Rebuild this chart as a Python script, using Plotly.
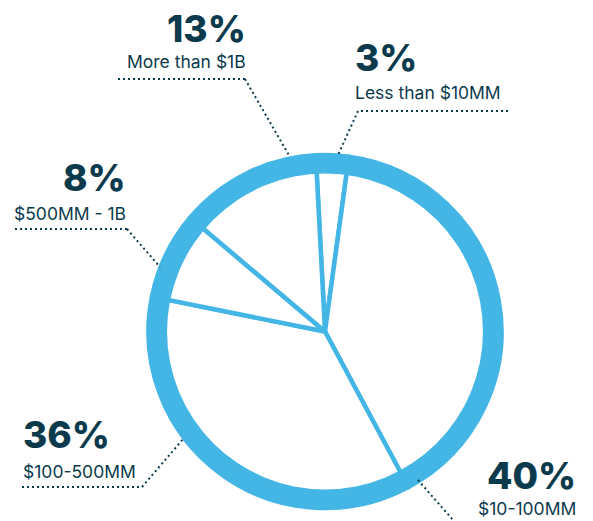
import plotly.graph_objects as go

# Share of companies by revenue band
bands = ["Less than $10MM", "$10-100MM", "$100-500MM", "$500MM - 1B", "More than $1B"]
shares = [3, 40, 36, 8, 13]

W, H = 593, 521
BLUE = "#44B6E6"
INK = "#0C3A4D"
FONT = "Inter"

# pie geometry in pixels
cx, cy, r_out = 325, 331.5, 176.5
ring_hole = 0.895

dom_x = [(cx - r_out) / W, (cx + r_out) / W]
dom_y = [(H - cy - r_out) / H, (H - cy + r_out) / H]

fig = go.Figure()

fig.add_trace(go.Pie(
    labels=bands, values=shares, sort=False, direction="clockwise", rotation=-3,
    marker=dict(colors=["white"] * len(shares), line=dict(color=BLUE, width=4.5)),
    textinfo="none", hoverinfo="label+percent", domain=dict(x=dom_x, y=dom_y),
    showlegend=False,
))

# thick outer ring
fig.add_trace(go.Pie(
    values=[1], hole=ring_hole, sort=False,
    marker=dict(colors=[BLUE], line=dict(width=0)),
    textinfo="none", hoverinfo="skip", domain=dict(x=dom_x, y=dom_y),
    showlegend=False,
))


def px(x, y):
    return x / W, 1 - y / H


# callouts: (value, label, anchor, x, pct_y, label_y, leader points)
callouts = [
    (shares[4], bands[4], "right", 248, 28, 62, [(118, 79), (245, 79), (290, 157)]),
    (shares[0], bands[0], "left", 353, 58, 93, [(508, 111), (358, 111), (338, 155)]),
    (shares[3], bands[3], "right", 128, 177, 213, [(15, 229), (127, 229), (160, 267)]),
    (shares[2], bands[2], "left", 21, 434, 471, [(22, 487), (142, 487), (184, 438)]),
    (shares[1], bands[1], "right", 578, 475, 508, [(418, 480), (460, 528)]),
]

annotations = []
shapes = []
for val, lab, anchor, x, py, ly, pts in callouts:
    ax, ay = px(x, py)
    annotations.append(dict(
        x=ax, y=ay, xref="paper", yref="paper", xanchor=anchor, yanchor="middle",
        text=f"{val}%", showarrow=False,
        font=dict(family=FONT, size=37, color=INK, weight=800),
    ))
    lx, lyy = px(x, ly)
    annotations.append(dict(
        x=lx, y=lyy, xref="paper", yref="paper", xanchor=anchor, yanchor="middle",
        text=lab, showarrow=False,
        font=dict(family=FONT, size=17.5, color=INK),
    ))
    for (x0, y0), (x1, y1) in zip(pts[:-1], pts[1:]):
        p0, p1 = px(x0, y0), px(x1, y1)
        shapes.append(dict(
            type="line", xref="paper", yref="paper",
            x0=p0[0], y0=p0[1], x1=p1[0], y1=p1[1],
            line=dict(color=INK, width=2, dash="2px,3px"),
        ))

fig.update_layout(
    width=W, height=H, margin=dict(l=0, r=0, t=0, b=0),
    paper_bgcolor="white", plot_bgcolor="white",
    annotations=annotations, shapes=shapes,
)

fig.write_html("out.html")
